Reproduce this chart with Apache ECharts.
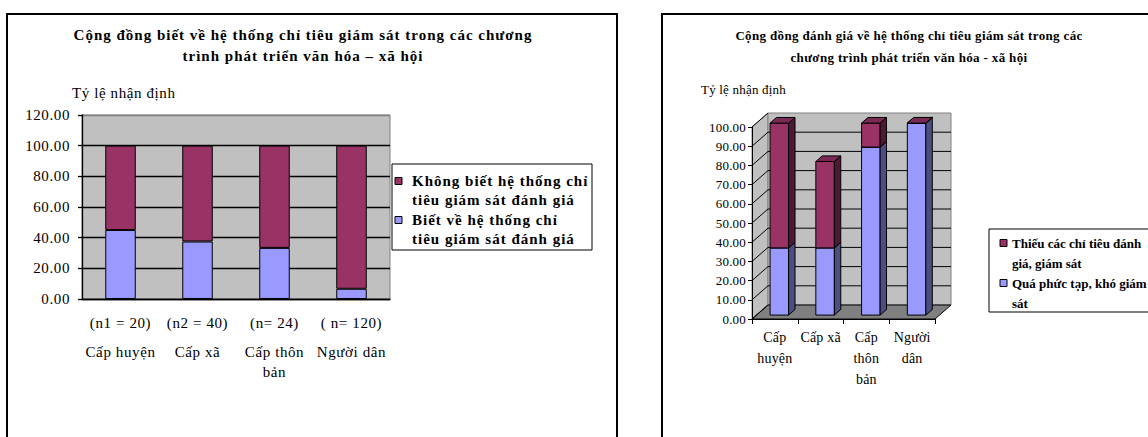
<!DOCTYPE html>
<html>
<head>
<meta charset="utf-8">
<script src="https://cdn.jsdelivr.net/npm/echarts@6/dist/echarts.min.js"></script>
<style>
  html, body { margin: 0; padding: 0; background: #fff; }
  #chart { width: 1148px; height: 437px; }
</style>
</head>
<body>
<div id="chart"></div>
<script>
// ---- Left panel: awareness of the monitoring indicator system ----
const leftSizes = ['(n1 = 20)', '(n2 = 40)', '(n= 24)', '( n= 120)'];
const leftGroups = ['Cấp huyện', 'Cấp xã', 'Cấp thôn\nbản', 'Người dân'];
const leftAware = [45, 37.5, 33.33, 6.67];
const leftUnaware = [55, 62.5, 66.67, 93.33];
const leftNames = ['Không biết hệ thống chỉ\ntiêu giám sát đánh giá', 'Biết về hệ thống chỉ\ntiêu giám sát đánh giá'];
const leftYMax = 120;
const leftYStep = 20;

// ---- Right panel: assessment of the monitoring indicator system ----
const rightGroups = ['Cấp\nhuyện', 'Cấp xã', 'Cấp\nthôn\nbản', 'Người\ndân'];
const rightComplex = [35, 35, 87.5, 100];
const rightLacking = [65, 45, 12.5, 0];
const rightNames = ['Thiếu các chỉ tiêu đánh\ngiá, giám sát', 'Quá phức tạp, khó giám\nsát'];
const rightYMax = 100;
const rightYStep = 10;

const SERIF = "'Liberation Serif', 'Times New Roman', serif";
const MAROON = { front: '#993366', side: '#4d1a33', top: '#7a2952' };
const BLUE = { front: '#9999ff', side: '#4d4d80', top: '#7a7acc' };

// depth vector of the 3D box and the bar slab position inside it
const DEPTH = [16, -14];
const BAR_FRONT = 0.28, BAR_BACK = 0.68, BAR_W = 0.405;

const leftAxisLabels = leftSizes.map((s, i) =>
  '{n|' + s + '}\n' + leftGroups[i].split('\n').map(t => '{c|' + t + '}').join('\n'));

function wallsItem(params, api) {
  const cs = params.coordSys;
  const x0 = cs.x, x1 = cs.x + cs.width;
  const yb = api.coord([0, 0])[1];
  const yt = api.coord([0, rightYMax])[1];
  const dx = DEPTH[0], dy = DEPTH[1];
  const children = [
    { type: 'polygon', shape: { points: [[x0, yb], [x0, yt], [x0 + dx, yt + dy], [x0 + dx, yb + dy]] },
      style: { fill: '#c0c0c0', stroke: '#808080', lineWidth: 1 } },
    { type: 'rect', shape: { x: x0 + dx, y: yt + dy, width: x1 - x0, height: yb - yt },
      style: { fill: '#c0c0c0', stroke: '#808080', lineWidth: 1 } },
    { type: 'polygon', shape: { points: [[x0, yb], [x1, yb], [x1 + dx, yb + dy], [x0 + dx, yb + dy]] },
      style: { fill: '#808080', stroke: '#000', lineWidth: 1 } }
  ];
  for (let v = 0; v <= rightYMax; v += rightYStep) {
    const y = api.coord([0, v])[1];
    children.push({ type: 'line', shape: { x1: x0, y1: y, x2: x0 + dx, y2: y + dy },
      style: { stroke: '#000', lineWidth: 1 } });
    if (v > 0 && v < rightYMax) {
      children.push({ type: 'line', shape: { x1: x0 + dx, y1: y + dy, x2: x1 + dx, y2: y + dy },
        style: { stroke: '#000', lineWidth: 1 } });
    }
  }
  return { type: 'group', children };
}

function prismItem(colors) {
  return function (params, api) {
    const cat = api.value(0), lo = api.value(1), hi = api.value(2);
    const cw = api.size([1, 0])[0];
    const pLo = api.coord([cat, lo]), pHi = api.coord([cat, hi]);
    const w = cw * BAR_W;
    const fx = DEPTH[0] * BAR_FRONT, fy = DEPTH[1] * BAR_FRONT;
    const ddx = DEPTH[0] * (BAR_BACK - BAR_FRONT), ddy = DEPTH[1] * (BAR_BACK - BAR_FRONT);
    const xl = pLo[0] - w / 2 + fx, xr = pLo[0] + w / 2 + fx;
    const yb = pLo[1] + fy, yt = pHi[1] + fy;
    const st = (fill) => ({ fill, stroke: '#000', lineWidth: 1 });
    return { type: 'group', children: [
      { type: 'polygon', shape: { points: [[xl, yb], [xr, yb], [xr, yt], [xl, yt]] }, style: st(colors.front) },
      { type: 'polygon', shape: { points: [[xr, yb], [xr + ddx, yb + ddy], [xr + ddx, yt + ddy], [xr, yt]] }, style: st(colors.side) },
      { type: 'polygon', shape: { points: [[xl, yt], [xr, yt], [xr + ddx, yt + ddy], [xl + ddx, yt + ddy]] }, style: st(colors.top) }
    ] };
  };
}

function text(x, y, str, font, align, lineHeight) {
  return { type: 'text', x, y, silent: true, style: {
    text: str, font, fill: '#000', align: align || 'left', textAlign: align || 'left',
    verticalAlign: 'middle', textVerticalAlign: 'middle', lineHeight: lineHeight || 20 } };
}

function legendBox(x, y, w, h, names, colors, font, textX, markX, lineYs) {
  const children = [{ type: 'rect', shape: { x, y, width: w, height: h },
    style: { fill: '#fff', stroke: '#000', lineWidth: 1 } }];
  names.forEach((name, i) => {
    const lines = name.split('\n');
    const y0 = lineYs[i];
    children.push({ type: 'rect', shape: { x: markX, y: y0 - 3.5, width: 7, height: 7 },
      style: { fill: colors[i], stroke: '#000', lineWidth: 1 } });
    lines.forEach((ln, k) => children.push(text(textX, y0 + k * lineYs[2], ln, font)));
  });
  return { type: 'group', children };
}

const chart = echarts.init(document.getElementById('chart'), null, { renderer: 'svg' });
chart.setOption({
  animation: false,
  backgroundColor: '#fff',
  grid: [
    { left: 82, top: 115, width: 308, height: 184, show: true, backgroundColor: '#c0c0c0',
      borderColor: '#808080', borderWidth: 1 },
    { left: 752, top: 127, width: 183, height: 192 }
  ],
  xAxis: [
    { type: 'category', gridIndex: 0, data: leftAxisLabels,
      axisLine: { lineStyle: { color: '#000', width: 1.3 } }, axisTick: { show: false },
      axisLabel: { interval: 0, margin: 5, color: '#000',
        rich: { n: { fontFamily: SERIF, fontSize: 15, lineHeight: 38, color: '#000' },
                c: { fontFamily: SERIF, fontSize: 15, lineHeight: 20, color: '#000' } } } },
    { type: 'category', gridIndex: 1, data: rightGroups, z: 5,
      axisLine: { lineStyle: { color: '#000', width: 1 } },
      axisTick: { show: true, length: 5, lineStyle: { color: '#000' } },
      axisLabel: { interval: 0, margin: 8, color: '#000', fontFamily: SERIF, fontSize: 14, lineHeight: 21 } }
  ],
  yAxis: [
    { type: 'value', gridIndex: 0, min: 0, max: leftYMax, interval: leftYStep,
      axisLine: { show: true, lineStyle: { color: '#000', width: 1.3 } },
      axisTick: { show: true, length: 4, lineStyle: { color: '#000', width: 1.3 } },
      axisLabel: { margin: 12, color: '#000', fontFamily: SERIF, fontSize: 15,
        formatter: v => v.toFixed(2) },
      splitLine: { show: true, lineStyle: { color: ['#000', '#000', '#000', '#000', '#000', '#000', '#808080'], width: 1.3 } } },
    { type: 'value', gridIndex: 1, min: 0, max: rightYMax, interval: rightYStep, z: 5,
      axisLine: { show: true, lineStyle: { color: '#000', width: 1 } },
      axisTick: { show: true, length: 4, lineStyle: { color: '#000' } },
      axisLabel: { margin: 6, color: '#000', fontFamily: SERIF, fontSize: 13,
        formatter: v => v.toFixed(2) },
      splitLine: { show: false } }
  ],
  series: [
    { name: leftNames[1], type: 'bar', stack: 'left', xAxisIndex: 0, yAxisIndex: 0, data: leftAware,
      barWidth: 30.5, itemStyle: { color: BLUE.front, borderColor: '#000', borderWidth: 1 } },
    { name: leftNames[0], type: 'bar', stack: 'left', xAxisIndex: 0, yAxisIndex: 0, data: leftUnaware,
      barWidth: 30.5, itemStyle: { color: MAROON.front, borderColor: '#000', borderWidth: 1 } },
    { name: 'walls', type: 'custom', xAxisIndex: 1, yAxisIndex: 1, z: 1, silent: true, clip: false,
      data: [[0, 0]], renderItem: wallsItem },
    { name: rightNames[1], type: 'custom', xAxisIndex: 1, yAxisIndex: 1, z: 3, clip: false,
      data: rightComplex.map((v, i) => [i, 0, v]), renderItem: prismItem(BLUE) },
    { name: rightNames[0], type: 'custom', xAxisIndex: 1, yAxisIndex: 1, z: 3, clip: false,
      data: rightLacking.map((v, i) => [i, rightComplex[i], rightComplex[i] + v]), renderItem: prismItem(MAROON) }
  ],
  graphic: [
    // panel frames
    { type: 'rect', shape: { x: 7, y: 14, width: 610, height: 440 }, silent: true, z: 10,
      style: { fill: 'none', stroke: '#000', lineWidth: 2 } },
    { type: 'rect', shape: { x: 662, y: 14, width: 600, height: 440 }, silent: true, z: 10,
      style: { fill: 'none', stroke: '#000', lineWidth: 2 } },
    // titles and axis names
    text(303, 35, 'Cộng đồng biết về hệ thống chỉ tiêu giám sát trong các chương', 'bold 15px ' + SERIF, 'center'),
    text(303, 56, 'trình phát triển văn hóa – xã hội', 'bold 15px ' + SERIF, 'center'),
    text(72, 93, 'Tỷ lệ nhận định', '15px ' + SERIF),
    text(909, 35, 'Cộng đồng đánh giá về hệ thống chỉ tiêu giám sát trong các', 'bold 13px ' + SERIF, 'center'),
    text(909, 57, 'chương trình phát triển văn hóa - xã hội', 'bold 13px ' + SERIF, 'center'),
    text(701, 89, 'Tỷ lệ nhận định', '13px ' + SERIF),
    // legends
    Object.assign(legendBox(392, 164, 200, 86, leftNames, [MAROON.front, BLUE.front],
      'bold 15px ' + SERIF, 412, 395, [181, 220, 19]), { z: 20 }),
    Object.assign(legendBox(989, 229, 200, 83, rightNames, [MAROON.front, BLUE.front],
      'bold 13px ' + SERIF, 1012, 1000, [243, 283, 20]), { z: 20 })
  ]
});

// Wider tracking for the serif text, as in the printed figure
function applyTracking() {
  document.querySelectorAll('#chart text').forEach(t => {
    const cs = getComputedStyle(t);
    const size = parseFloat(cs.fontSize);
    const bold = parseInt(cs.fontWeight, 10) >= 600 || cs.fontWeight === 'bold';
    const inRightLegend = t.getBoundingClientRect().left > 1000;
    let ls;
    if (bold) ls = size >= 15 ? 1.0 : (inRightLegend ? 0 : 0.35);
    else ls = size >= 15 ? 0.6 : 0.2;
    t.style.letterSpacing = ls + 'px';
  });
}
applyTracking();
chart.on('finished', applyTracking);
</script>
</body>
</html>
